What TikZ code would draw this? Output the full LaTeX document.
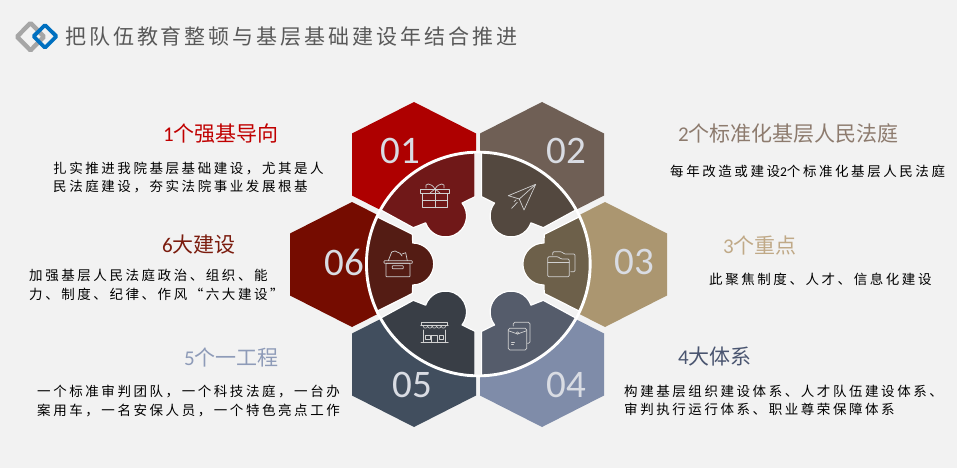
\documentclass[tikz,border=0pt]{standalone}
\usepackage{fontspec}
\usetikzlibrary{positioning}
\newfontfamily\cjkhead{Noto Sans CJK SC}
\newfontfamily\cjkbody[LetterSpace=19]{Noto Sans CJK SC}
\newfontfamily\cjktitle[LetterSpace=14]{Noto Sans CJK SC}
\newfontfamily\numfont{Carlito}
\definecolor{pagebg}{HTML}{F2F2F2}
\definecolor{logogrey}{HTML}{A6A6A6}
\definecolor{logoblue}{HTML}{0070C0}
\definecolor{numgrey}{HTML}{D9DCE3}
\definecolor{hex01}{HTML}{AE0000}
\definecolor{hex02}{HTML}{6F5F55}
\definecolor{hex03}{HTML}{AB9670}
\definecolor{hex04}{HTML}{7F8CA9}
\definecolor{hex05}{HTML}{414E5E}
\definecolor{hex06}{HTML}{750C00}
\definecolor{sec01}{HTML}{701818}
\definecolor{sec02}{HTML}{53483F}
\definecolor{sec03}{HTML}{6D604A}
\definecolor{sec04}{HTML}{555C6B}
\definecolor{sec05}{HTML}{393E46}
\definecolor{sec06}{HTML}{541C14}
\definecolor{head01}{HTML}{C00000}
\definecolor{head02}{HTML}{8D7B6E}
\definecolor{head03}{HTML}{C0A987}
\definecolor{head04}{HTML}{4A5570}
\definecolor{head05}{HTML}{8E9BB8}
\definecolor{head06}{HTML}{7B1C0E}
\tikzset{
  sectorcell/.style={draw=white, line width=1.2pt, line join=round},
  iconline/.style={draw=black!18, line width=0.7pt, line join=round, line cap=round},
  numtext/.style={text=numgrey, font=\numfont\fontsize{39}{39}\selectfont, inner sep=0pt},
  headtext/.style={anchor=west, inner sep=0pt, font=\cjkhead\fontsize{21}{24}\selectfont},
  bodytext/.style={anchor=west, inner sep=0pt, align=left, text=black, font=\cjkbody\fontsize{13.5}{18.7}\selectfont},
}
% one piece of the ring, relative to the ring centre
\newcommand\toppiece{(-3.3,-110.9) -- (-3.3,-67.3) -- (-16.25,-60.93) arc[start angle=-38,end angle=161,radius=21pt]
  -- (-65,-36.3) -- (-151:111) arc[start angle=-151,end angle=-91.7,radius=111pt] -- cycle}
\newcommand\sidepiece{(-155:111) -- (-66,-29.7) -- (-65.6,-21) arc[start angle=-90,end angle=90,radius=21pt]
  -- (-66,29.5) -- (155:111) arc[start angle=155,end angle=205,radius=111pt] -- cycle}
\begin{document}
\begin{tikzpicture}[x=1pt,y=1pt,yscale=-1]
  \useasboundingbox (0,0) rectangle (957,468);
  \fill[pagebg] (0,0) rectangle (957,468);

  % Logo and title
  \draw[logogrey, line width=4.4pt, rounded corners=1pt] (30.5,23) -- (44,36.7) -- (30.5,50.4) -- (17,36.7) -- cycle;
  \draw[logoblue, line width=3.8pt, rounded corners=1pt] (45,25) -- (56.4,36.3) -- (45,47.7) -- (33.6,36.3) -- cycle;
  \node[anchor=west, inner sep=0pt, text=black!65, font=\cjktitle\fontsize{21}{24}\selectfont] (title) at (65,37) {把队伍教育整顿与基层基础建设年结合推进};

  % Hexagons
  \foreach \id/\cx/\cy in {01/414/164.5, 02/542/164.5, 03/605/264.5, 04/542/364.5, 05/414/364.5, 06/352/264.5}
    \fill[fill=hex\id] (\cx,\cy) ++(0,-62.5) -- ++(62,31.5) -- ++(0,62) -- ++(-62,31.5) -- ++(-62,-31.5) -- ++(0,-62) -- cycle;

  % Ring
  \draw[white, line width=2.6pt, fill=pagebg] (478.3,264) circle[radius=112pt];
  \begin{scope}[shift={(478.3,264)}]
    \path[sectorcell, fill=sec01] \toppiece;
    \path[sectorcell, fill=sec02, xscale=-1] \toppiece;
    \path[sectorcell, fill=sec04, xscale=-1, yscale=-1] \toppiece;
    \path[sectorcell, fill=sec05, yscale=-1] \toppiece;
    \path[sectorcell, fill=sec06] \sidepiece;
    \path[sectorcell, fill=sec03, xscale=-1] \sidepiece;
  \end{scope}

  % Numbers
  \node[numtext] (num01) at (400,151) {01};
  \node[numtext] (num02) at (566,151) {02};
  \node[numtext] (num03) at (634,262) {03};
  \node[numtext] (num04) at (566,385) {04};
  \node[numtext] (num05) at (412,385) {05};
  \node[numtext] (num06) at (344,262) {06};

  % Gift
  \draw[iconline] (420.7,189) rectangle (449,193.3);
  \draw[iconline] (422.3,193.3) rectangle (447.3,207.7);
  \draw[iconline] (435,189) -- (435,207.7) (422.3,200.7) -- (447.3,200.7);
  \draw[iconline] (435,189) .. controls (431,182) and (424,183) .. (426,188) (435,189) .. controls (439,182) and (446,183) .. (444,188);
  \draw[iconline] (435,189) -- (430,193) (435,189) -- (440,193);

  % Plane
  \draw[iconline] (535.7,184.3) -- (508.3,195.7) -- (519.3,199) -- (524,210) -- cycle;
  \draw[iconline] (519.3,199) -- (535.7,184.3);
  \draw[iconline] (511.7,208.3) -- (517.3,202.3) (514,201.7) -- (516,199.8);

  % Folders
  \draw[iconline, rounded corners=1.2pt] (547.7,262.7) -- (547.7,256.7) -- (558,256.7) -- (561,259) -- (569.3,259) -- (569.3,276.7) -- (547.7,276.7) -- cycle;
  \draw[iconline] (547.7,262.7) -- (569.3,262.7);
  \draw[iconline, rounded corners=1.2pt] (552.7,255) -- (552.7,251.7) -- (561.7,251.7) -- (564,254) -- (575,254) -- (575,271.7) -- (570.7,271.7);

  % Envelopes
  \draw[iconline, rounded corners=1.5pt] (508.3,328.3) rectangle (526.7,350);
  \draw[iconline] (508.3,330.7) -- (517.5,334) -- (526.7,330.7);
  \draw[iconline, line width=0.5pt] (517.5,333) circle[radius=1.2pt];
  \draw[iconline, line width=0.6pt] (511.5,342) -- (514.5,342) (511.5,344.3) -- (513.5,344.3);
  \draw[iconline, rounded corners=1.5pt] (513.3,326) -- (513.3,322.3) -- (530,322.3) -- (530,343.3) -- (527.5,343.3);

  % Shop
  \draw[iconline] (421.7,322.3) rectangle (447.3,325.7);
  \draw[iconline] (420.7,325.7) -- (448.3,325.7);
  \foreach \sx in {423.2,427.7,432.2,436.7,441.2}
    \draw[iconline, line width=0.6pt] (\sx,326) arc[start angle=180,end angle=0,radius=2.2pt];
  \draw[iconline] (423.3,330) -- (423.3,342.7) (445.7,330) -- (445.7,342.7) (421,342.7) -- (448.3,342.7);
  \draw[iconline] (431.7,342.7) -- (431.7,335) -- (437.3,335) -- (437.3,342.7);
  \draw[iconline] (425.7,335) rectangle (430,339) (439.3,335) rectangle (443.3,339);

  % Box
  \draw[iconline, rounded corners=0.6pt] (384,260.7) rectangle (412.3,263.3);
  \draw[iconline, rounded corners=0.6pt] (386,263.3) rectangle (410,276.7);
  \draw[iconline, rounded corners=0.6pt] (392.3,265.7) rectangle (403.3,268.7);
  \draw[iconline] (388.3,260.7) -- (391.7,252) -- (395,251) -- (400,253.3) -- (402,256) (402,254) -- (405.7,252.7) -- (407.3,260.7);

  % Left column
  \node[headtext, text=head01] (head1) at (163,134) {{\numfont 1}个强基导向};
  \node[bodytext] (body1) at (53,177.5) {扎实推进我院基层基础建设，尤其是人\\民法庭建设，夯实法院事业发展根基};
  \node[headtext, text=head06] (head6) at (162,245) {{\numfont 6}大建设};
  \node[bodytext] (body6) at (29,285) {加强基层人民法庭政治、组织、能\\力、制度、纪律、作风“六大建设”};
  \node[headtext, text=head05] (head5) at (184,357) {{\numfont 5}个一工程};
  \node[bodytext] (body5) at (37,401) {一个标准审判团队，一个科技法庭，一台办\\案用车，一名安保人员，一个特色亮点工作};

  % Right column
  \node[headtext, text=head02] (head2) at (678,134) {{\numfont 2}个标准化基层人民法庭};
  \node[bodytext] (body2) at (670,171) {每年改造或建设{\numfont 2}个标准化基层人民法庭};
  \node[headtext, text=head03] (head3) at (723,245) {{\numfont 3}个重点};
  \node[bodytext] (body3) at (709,279) {此聚焦制度、人才、信息化建设};
  \node[headtext, text=head04] (head4) at (678,357) {{\numfont 4}大体系};
  \node[bodytext] (body4) at (624,400.5) {构建基层组织建设体系、人才队伍建设体系、\\审判执行运行体系、职业尊荣保障体系};
\end{tikzpicture}
\end{document}
